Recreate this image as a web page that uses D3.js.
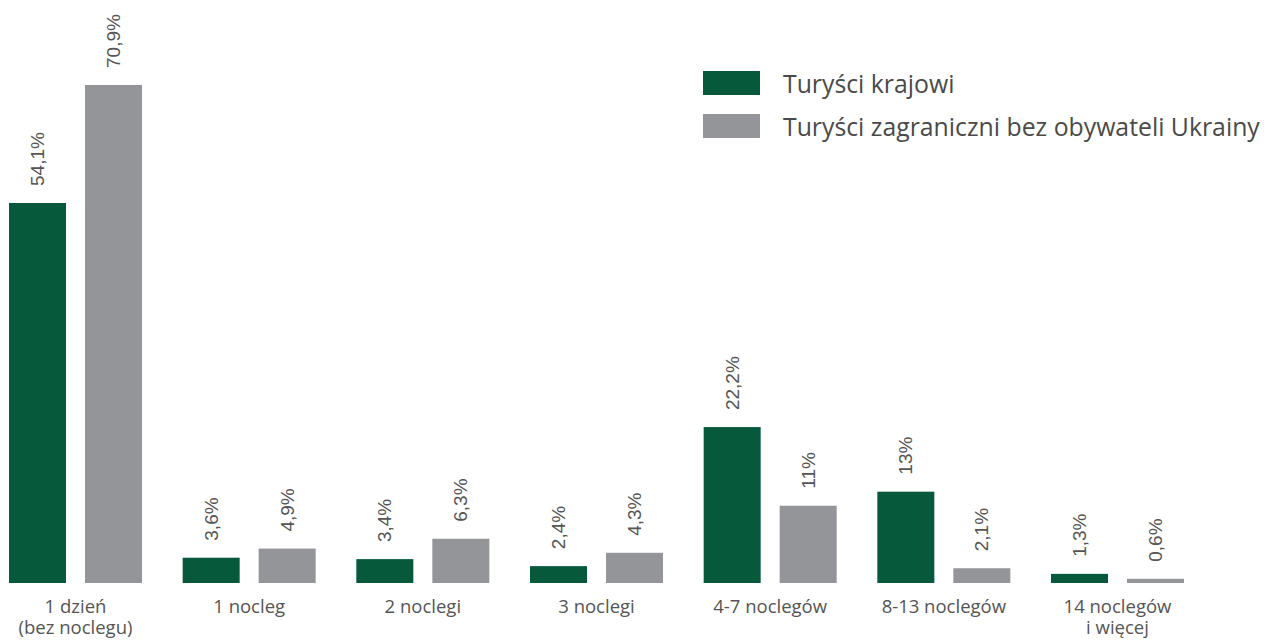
<!DOCTYPE html>
<html>
<head>
<meta charset="utf-8">
<script src="https://cdn.jsdelivr.net/npm/d3@7"></script>
<style>
  body { margin: 0; background: #fff; }
  svg { display: block; }
  .value { font-family: "Liberation Sans", Arial, sans-serif; font-size: 19px; fill: #555; }
  .cat { font-family: "Open Sans", "Lato", sans-serif; font-size: 18.5px; fill: #555; }
  .legend-label { font-family: "Open Sans", "Lato", sans-serif; font-size: 24.8px; fill: #4a4a4a; }
</style>
</head>
<body>
<svg width="1266" height="640"></svg>
<script>
var svg = d3.select('svg');

// Data
var categories = ['1 dzień\n(bez noclegu)', '1 nocleg', '2 noclegi', '3 noclegi', '4-7 noclegów', '8-13 noclegów', '14 noclegów\ni więcej'];
var series = ['Turyści krajowi', 'Turyści zagraniczni bez obywateli Ukrainy'];
var domestic = [54.1, 3.6, 3.4, 2.4, 22.2, 13, 1.3];
var foreign = [70.9, 4.9, 6.3, 4.3, 11, 2.1, 0.6];
var valueLabels = [
    ['54,1%', '3,6%', '3,4%', '2,4%', '22,2%', '13%', '1,3%'],
    ['70,9%', '4,9%', '6,3%', '4,3%', '11%', '2,1%', '0,6%']
];
var colors = ['#06593a', '#939598'];

var baseline = 583;

var x0 = d3.scaleBand().domain(categories).range([-11.33, 1204.33]).padding(0);
var x1 = d3.scaleBand().domain(series).range([20.33, 153.33]).paddingInner(0.25).paddingOuter(0);
var y = d3.scaleLinear().domain([0, 70.9]).range([baseline, 85]);
var color = d3.scaleOrdinal().domain(series).range(colors);

var rows = categories.map(function(c, i) {
    return {cat: c, values: [
        {s: series[0], v: domestic[i], label: valueLabels[0][i]},
        {s: series[1], v: foreign[i], label: valueLabels[1][i]}
    ]};
});

var groups = svg.selectAll('.group')
    .data(rows)
    .enter()
    .append('g')
    .attr('class', 'group')
    .attr('transform', function(d) { return 'translate(' + [x0(d.cat), 0] + ')'; });

groups.selectAll('rect')
    .data(function(d) { return d.values; })
    .enter()
    .append('rect')
    .attr('x', function(d) { return x1(d.s); })
    .attr('width', x1.bandwidth())
    .attr('y', function(d) { return y(d.v); })
    .attr('height', function(d) { return baseline - y(d.v); })
    .attr('fill', function(d) { return color(d.s); });

// Rotated value labels above bars
groups.selectAll('.value')
    .data(function(d) { return d.values; })
    .enter()
    .append('text')
    .attr('class', 'value')
    .attr('dominant-baseline', 'central')
    .attr('transform', function(d) {
        return 'translate(' + [x1(d.s) + x1.bandwidth() / 2, y(d.v) - 17] + ')rotate(-90)';
    })
    .text(function(d) { return d.label; });

// Category labels
groups.append('text')
    .attr('class', 'cat')
    .attr('text-anchor', 'middle')
    .attr('transform', 'translate(' + [x0.bandwidth() / 2, 613] + ')')
    .selectAll('tspan')
    .data(function(d) { return d.cat.split('\n'); })
    .enter()
    .append('tspan')
    .attr('x', 0)
    .attr('dy', function(d, i) { return i ? 21 : 0; })
    .text(function(d) { return d; });

// Legend
var legend = svg.selectAll('.legend')
    .data(series)
    .enter()
    .append('g')
    .attr('class', 'legend')
    .attr('transform', function(d, i) { return 'translate(' + [703, 71 + i * 43] + ')'; });

legend.append('rect')
    .attr('width', 57)
    .attr('height', 24)
    .attr('fill', function(d) { return color(d); });

legend.append('text')
    .attr('class', 'legend-label')
    .attr('x', 80)
    .attr('y', 12)
    .attr('dominant-baseline', 'central')
    .text(function(d) { return d; });
</script>
</body>
</html>
